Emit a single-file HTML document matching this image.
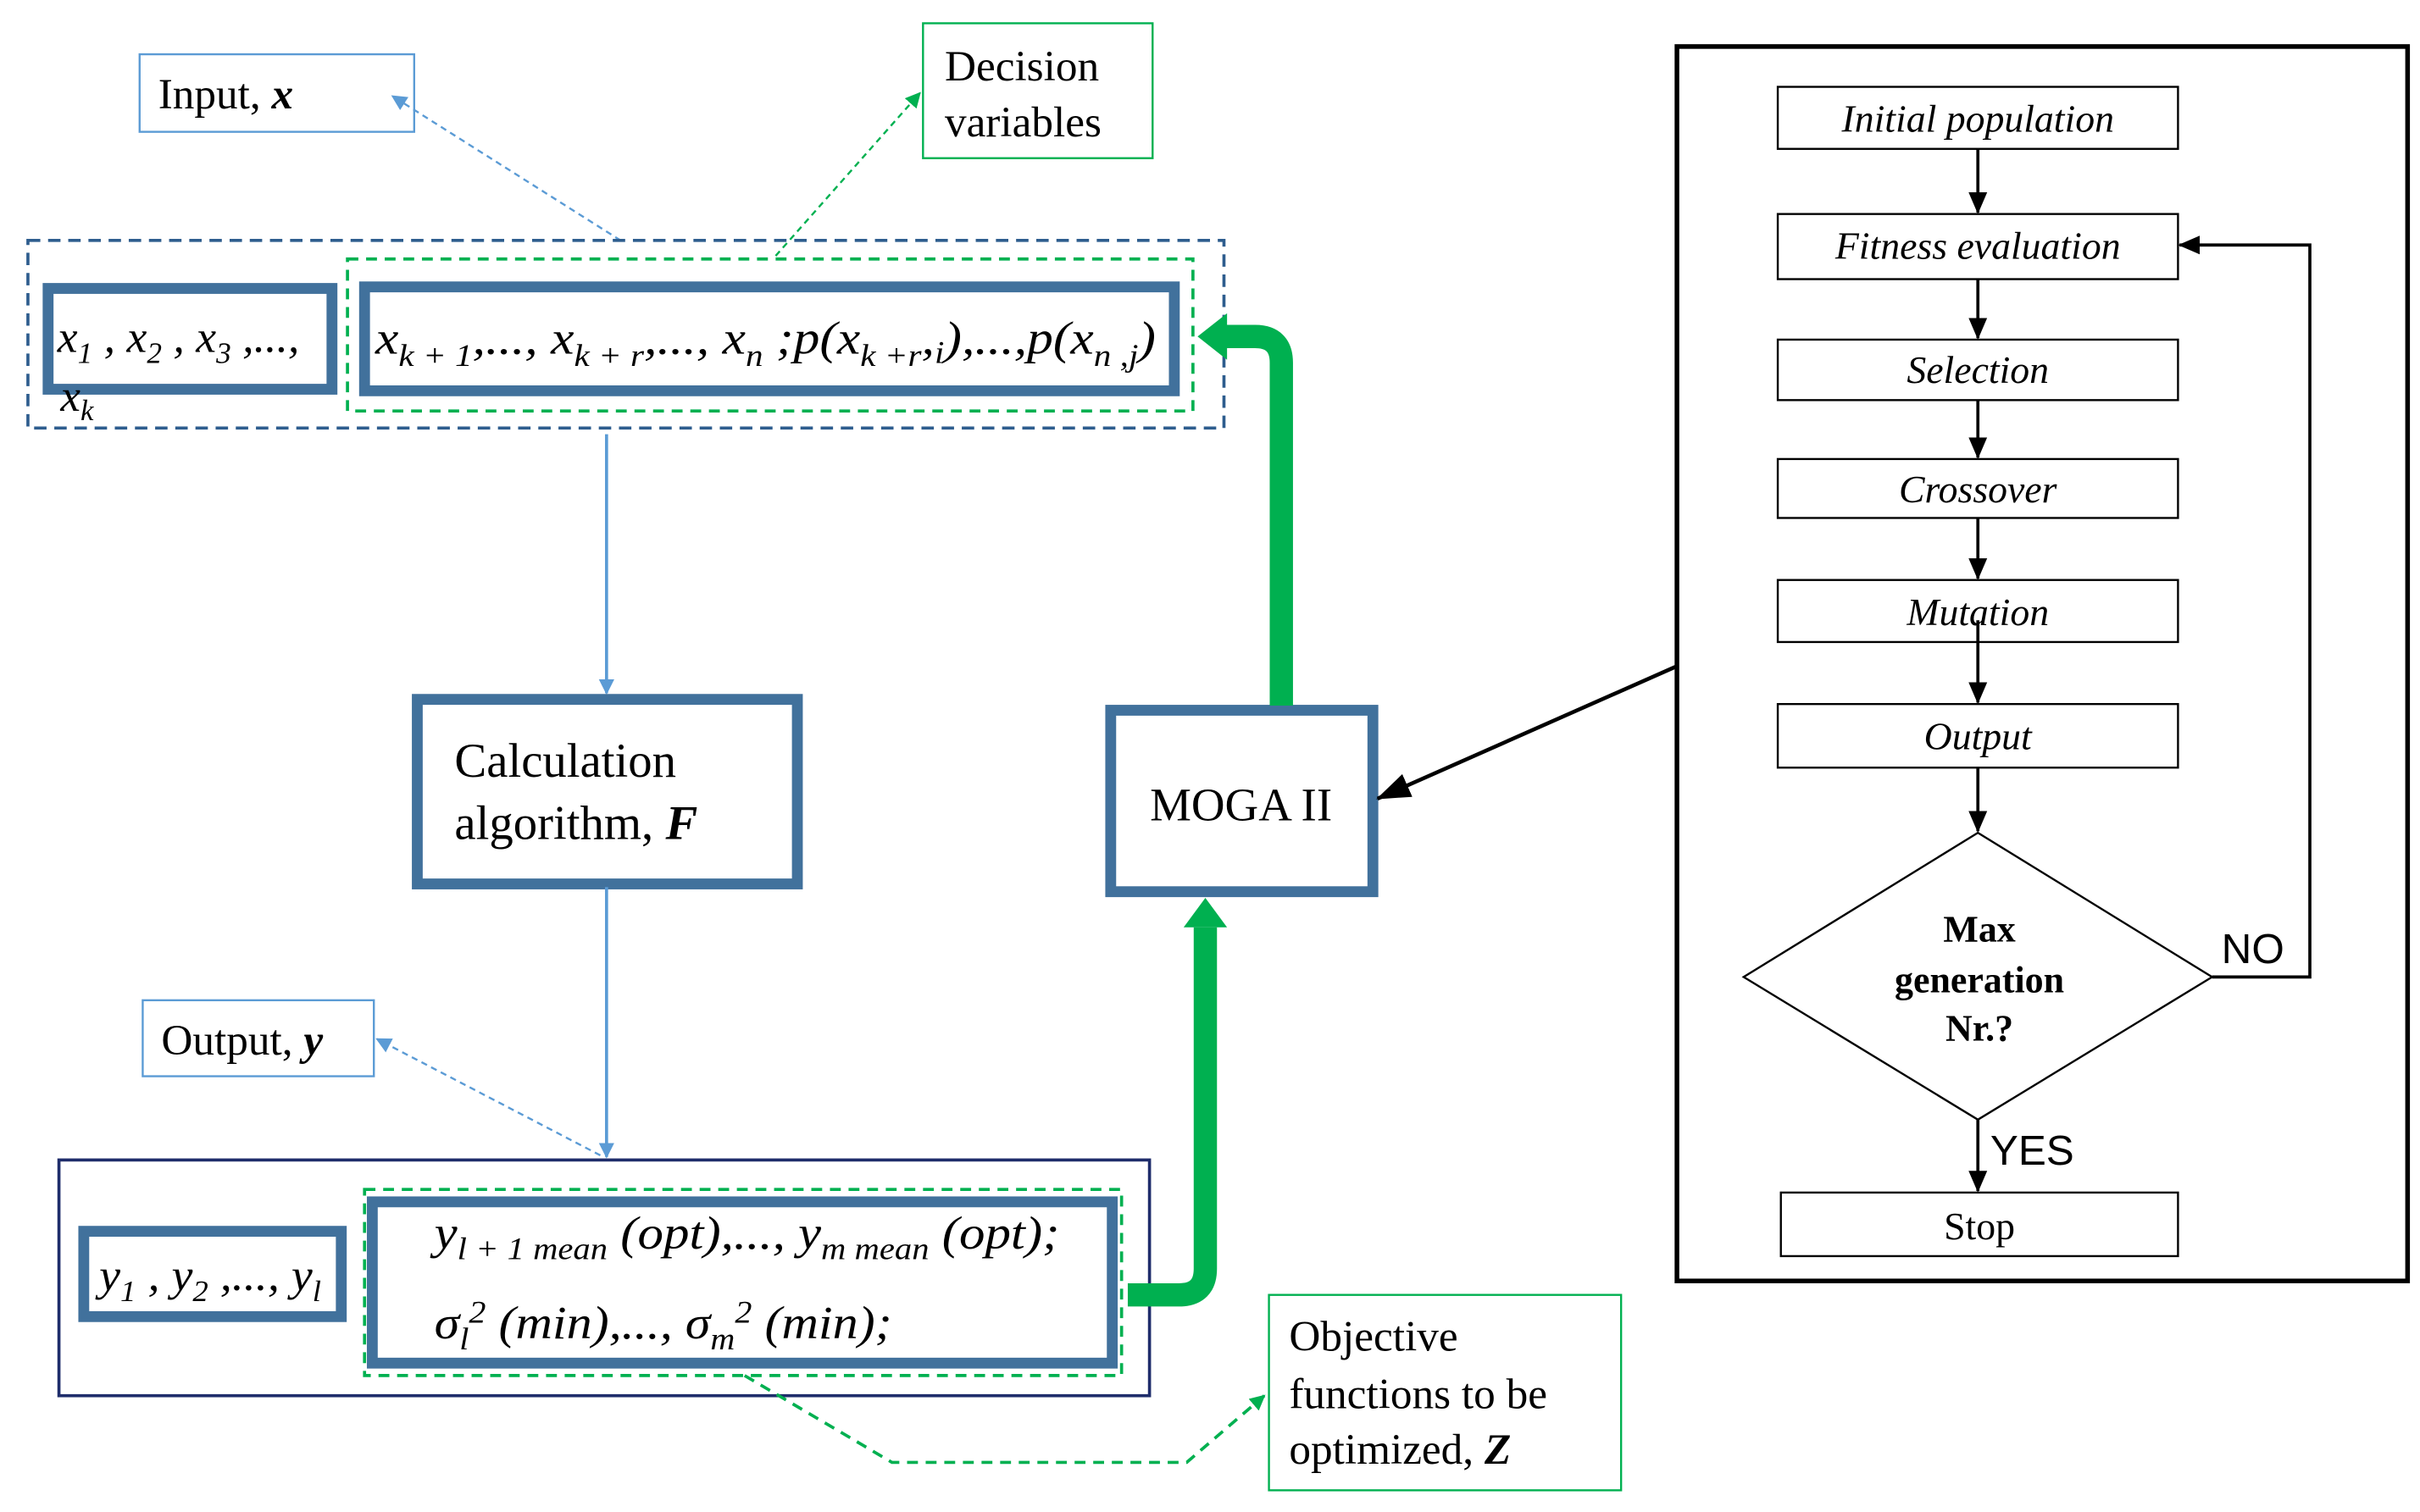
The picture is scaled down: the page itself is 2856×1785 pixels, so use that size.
<!DOCTYPE html>
<html><head><meta charset="utf-8"><style>
html,body{margin:0;padding:0;background:#fff;width:2856px;height:1785px;overflow:hidden}
svg{display:block}
.s{font-family:"Liberation Serif",serif}
.i{font-family:"Liberation Serif",serif;font-style:italic}
.b{fill:none;stroke:#41719c;stroke-width:7}
.f{fill:#fff;stroke:#000;stroke-width:1.3}
</style></head><body>
<svg width="2856" height="1785" viewBox="0 0 1560 975" xmlns="http://www.w3.org/2000/svg">
<defs>
<marker id="ab" markerWidth="10" markerHeight="10" refX="9" refY="5" orient="auto" markerUnits="userSpaceOnUse"><path d="M0,0 L10,5 L0,10 z" fill="#5b9bd5"/></marker>
<marker id="ag" markerWidth="10" markerHeight="10" refX="9" refY="5" orient="auto" markerUnits="userSpaceOnUse"><path d="M0,0 L10,5 L0,10 z" fill="#00b050"/></marker>
<marker id="ak" markerWidth="14" markerHeight="14" refX="13" refY="7" orient="auto" markerUnits="userSpaceOnUse"><path d="M0,1 L14,7 L0,13 z" fill="#000"/></marker>
<marker id="ak2" markerWidth="22" markerHeight="16" refX="21" refY="8" orient="auto" markerUnits="userSpaceOnUse"><path d="M0,0 L22,8 L0,16 z" fill="#000"/></marker>
</defs>

<rect x="90" y="35" width="177" height="50" fill="#fff" stroke="#5b9bd5" stroke-width="1.3"/>
<text x="102" y="70" class="s" font-size="28">Input, <tspan class="i" font-weight="bold">x</tspan></text>
<line x1="400" y1="155" x2="253" y2="62" stroke="#5b9bd5" stroke-width="1.3" stroke-dasharray="4,3" marker-end="url(#ab)"/>

<rect x="595" y="15" width="148" height="87" fill="#fff" stroke="#00b050" stroke-width="1.3"/>
<text x="609" y="52" class="s" font-size="28">Decision</text>
<text x="609" y="88" class="s" font-size="28">variables</text>
<line x1="500" y1="165" x2="593" y2="60" stroke="#00b050" stroke-width="1.3" stroke-dasharray="4,3" marker-end="url(#ag)"/>

<rect x="18" y="155" width="771" height="121" fill="none" stroke="#2e5d8e" stroke-width="2" stroke-dasharray="8,5"/>
<rect x="31" y="186" width="183" height="65" class="b"/>
<text x="37" y="227" class="i" font-size="29" textLength="156" lengthAdjust="spacingAndGlyphs">x<tspan font-size="19" dy="7">1</tspan><tspan dy="-7"> , x</tspan><tspan font-size="19" dy="7">2</tspan><tspan dy="-7"> , x</tspan><tspan font-size="19" dy="7">3</tspan><tspan dy="-7"> ,...,</tspan></text>
<text x="39" y="265" class="i" font-size="29">x<tspan font-size="19" dy="6">k</tspan></text>
<rect x="224" y="167" width="545" height="98" fill="none" stroke="#00b050" stroke-width="2" stroke-dasharray="7,5"/>
<rect x="235" y="185" width="522" height="67" class="b"/>
<text x="242" y="228" class="i" font-size="30" textLength="503" lengthAdjust="spacingAndGlyphs">x<tspan font-size="20" dy="8">k + 1</tspan><tspan dy="-8">,..., x</tspan><tspan font-size="20" dy="8">k + r</tspan><tspan dy="-8">,..., x</tspan><tspan font-size="20" dy="8">n</tspan><tspan dy="-8"> ;p(x</tspan><tspan font-size="20" dy="8">k +r</tspan><tspan dy="-8">,</tspan><tspan font-size="20" dy="6">i</tspan><tspan dy="-6">),...,p(x</tspan><tspan font-size="20" dy="8">n ,j</tspan><tspan dy="-8">)</tspan></text>

<line x1="391" y1="280" x2="391" y2="447" stroke="#5b9bd5" stroke-width="2" marker-end="url(#ab)"/>
<rect x="269" y="451" width="245" height="119" class="b"/>
<text x="293" y="501" class="s" font-size="31">Calculation</text>
<text x="293" y="541" class="s" font-size="31">algorithm, <tspan class="i" font-weight="bold">F</tspan></text>
<line x1="391" y1="572" x2="391" y2="746" stroke="#5b9bd5" stroke-width="2" marker-end="url(#ab)"/>

<rect x="92" y="645" width="149" height="49" fill="#fff" stroke="#5b9bd5" stroke-width="1.3"/>
<text x="104" y="680" class="s" font-size="28">Output, <tspan class="i" font-weight="bold">y</tspan></text>
<line x1="387" y1="745" x2="243" y2="670" stroke="#5b9bd5" stroke-width="1.3" stroke-dasharray="4,3" marker-end="url(#ab)"/>

<rect x="38" y="748" width="703" height="152" fill="none" stroke="#1f2d6b" stroke-width="2"/>
<rect x="54" y="794" width="166" height="55" class="b"/>
<text x="64" y="832" class="i" font-size="29" textLength="143" lengthAdjust="spacingAndGlyphs">y<tspan font-size="19" dy="7">1</tspan><tspan dy="-7"> , y</tspan><tspan font-size="19" dy="7">2</tspan><tspan dy="-7"> ,..., y</tspan><tspan font-size="19" dy="7">l</tspan></text>
<rect x="235" y="767" width="488" height="120" fill="none" stroke="#00b050" stroke-width="2" stroke-dasharray="7,5"/>
<rect x="240" y="775" width="477" height="104" class="b"/>
<text x="280" y="805" class="i" font-size="30" textLength="403" lengthAdjust="spacingAndGlyphs">y<tspan font-size="20" dy="7">l + 1 mean</tspan><tspan dy="-7"> (opt),..., y</tspan><tspan font-size="20" dy="7">m mean</tspan><tspan dy="-7"> (opt);</tspan></text>
<text x="280" y="863" class="i" font-size="30" textLength="295" lengthAdjust="spacingAndGlyphs">σ<tspan font-size="20" dy="7">l</tspan><tspan font-size="20" dy="-17">2</tspan><tspan dy="10"> (min),..., σ</tspan><tspan font-size="20" dy="7">m</tspan><tspan font-size="20" dy="-17">2</tspan><tspan dy="10"> (min);</tspan></text>
<polyline points="480,887 575,943 765,943 815,900" fill="none" stroke="#00b050" stroke-width="2" stroke-dasharray="7,5" marker-end="url(#ag)"/>

<rect x="818" y="835" width="227" height="126" fill="#fff" stroke="#00b050" stroke-width="1.3"/>
<text x="831" y="871" class="s" font-size="28">Objective</text>
<text x="831" y="908" class="s" font-size="28">functions to be</text>
<text x="831" y="944" class="s" font-size="28">optimized, <tspan class="i" font-weight="bold">Z</tspan></text>

<rect x="716" y="458" width="169" height="117" class="b"/>
<text x="800" y="529" class="s" font-size="30" text-anchor="middle">MOGA II</text>

<path d="M727,835 L760,835 Q777,835 777,818 L777,598" fill="none" stroke="#00b050" stroke-width="15"/>
<path d="M763,598 L777,579 L791,598 z" fill="#00b050"/>
<path d="M826,455 L826,234 Q826,217 809,217 L790,217" fill="none" stroke="#00b050" stroke-width="15"/>
<path d="M791,202 L772,217 L791,232 z" fill="#00b050"/>

<line x1="1080" y1="430" x2="888" y2="515" stroke="#000" stroke-width="2.5" marker-end="url(#ak2)"/>

<rect x="1081" y="30" width="471" height="796" fill="none" stroke="#000" stroke-width="3"/>
<g font-size="25" class="i" text-anchor="middle">
<rect x="1146" y="56" width="258" height="40" class="f"/><text x="1275" y="85">Initial population</text>
<rect x="1146" y="138" width="258" height="42" class="f"/><text x="1275" y="167">Fitness evaluation</text>
<rect x="1146" y="219" width="258" height="39" class="f"/><text x="1275" y="247">Selection</text>
<rect x="1146" y="296" width="258" height="38" class="f"/><text x="1275" y="324">Crossover</text>
<rect x="1146" y="374" width="258" height="40" class="f"/><text x="1275" y="403">Mutation</text>
<rect x="1146" y="454" width="258" height="41" class="f"/><text x="1275" y="483">Output</text>
</g>
<g stroke="#000" stroke-width="2">
<line x1="1275" y1="96" x2="1275" y2="137" marker-end="url(#ak)"/>
<line x1="1275" y1="180" x2="1275" y2="218" marker-end="url(#ak)"/>
<line x1="1275" y1="258" x2="1275" y2="295" marker-end="url(#ak)"/>
<line x1="1275" y1="334" x2="1275" y2="373" marker-end="url(#ak)"/>
<line x1="1275" y1="400" x2="1275" y2="453" marker-end="url(#ak)"/>
<line x1="1275" y1="495" x2="1275" y2="536" marker-end="url(#ak)"/>
<line x1="1275" y1="722" x2="1275" y2="768" marker-end="url(#ak)"/>
<polyline points="1426,630 1489,630 1489,158 1405,158" fill="none" marker-end="url(#ak)"/>
</g>
<polygon points="1275,537 1426,630 1275,722 1124,630" fill="#fff" stroke="#000" stroke-width="1.3"/>
<g font-family="Liberation Serif,serif" font-weight="bold" font-size="24" text-anchor="middle">
<text x="1276" y="607">Max</text>
<text x="1276" y="640">generation</text>
<text x="1276" y="671">Nr.?</text>
</g>
<text x="1432" y="621" font-family="Liberation Sans,sans-serif" font-size="27">NO</text>
<text x="1283" y="751" font-family="Liberation Sans,sans-serif" font-size="27">YES</text>
<rect x="1148" y="769" width="256" height="41" class="f"/>
<text x="1276" y="799" class="s" font-size="25" text-anchor="middle">Stop</text>
</svg>
</body></html>
